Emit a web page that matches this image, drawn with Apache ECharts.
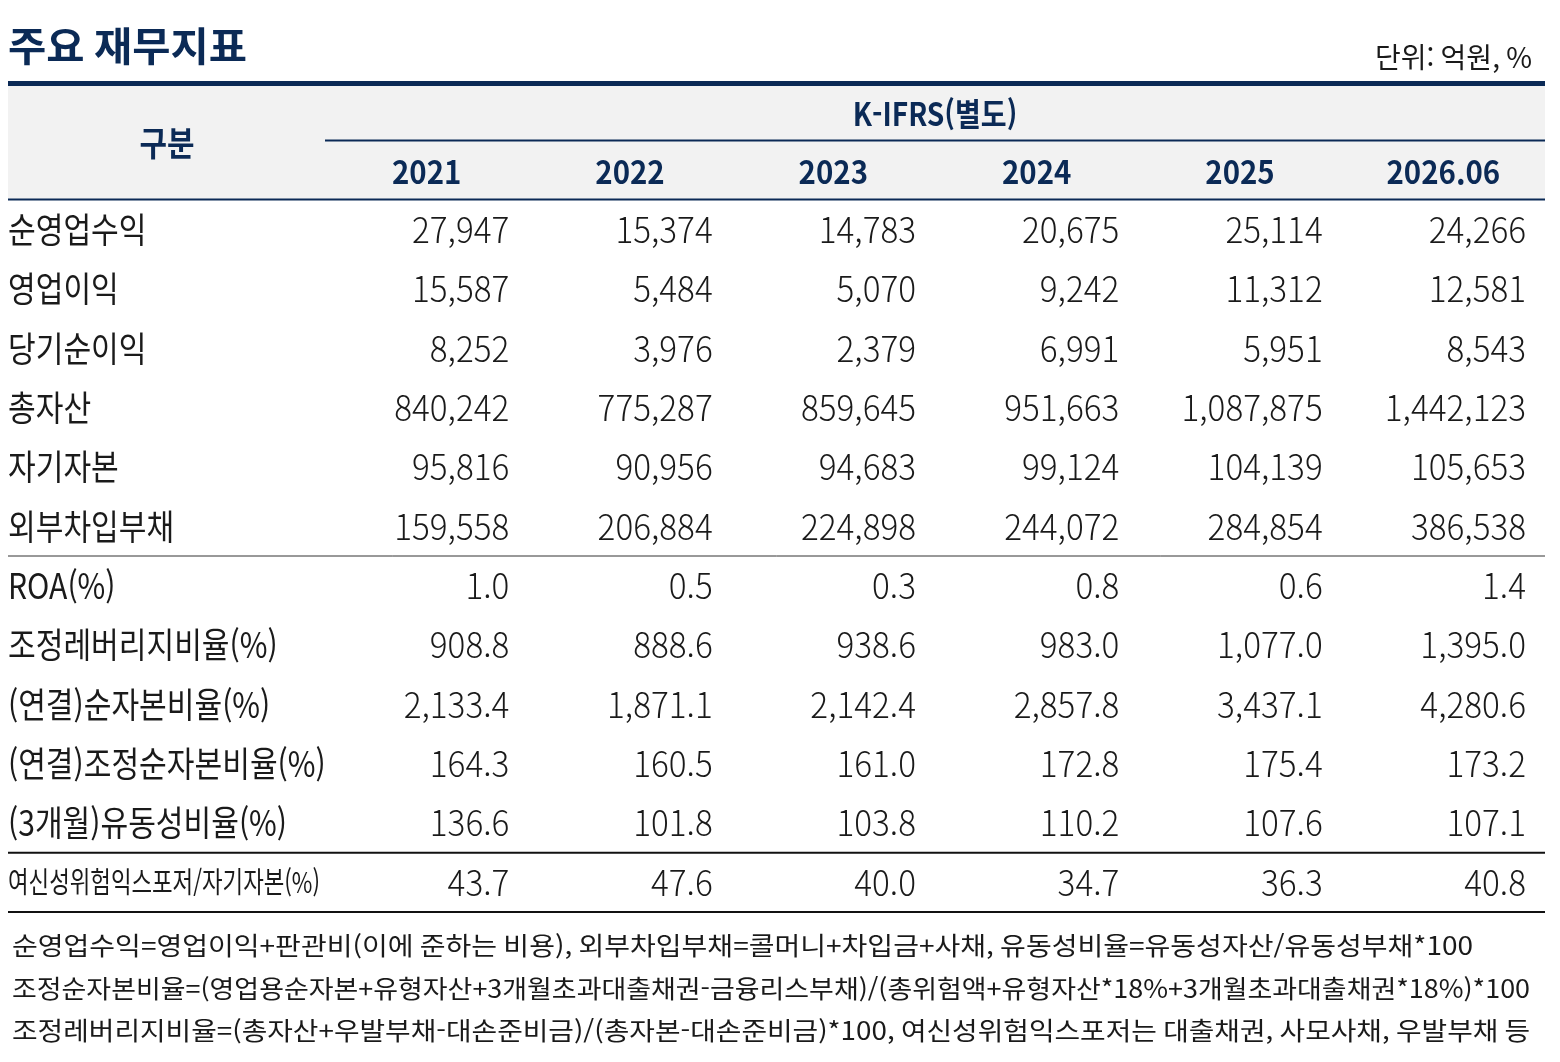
<!doctype html>
<html lang="ko">
<head>
<meta charset="UTF-8">
<title>주요 재무지표</title>
<script src="https://cdn.jsdelivr.net/npm/echarts@6/dist/echarts.min.js"></script>
<style>
  html, body { margin: 0; padding: 0; background: #fff; }
  #main { width: 1560px; height: 1062px; }
</style>
</head>
<body>
<div id="main"></div>
<script>
// 표 데이터
var years = ['2021', '2022', '2023', '2024', '2025', '2026.06'];
var rowNames = ['순영업수익', '영업이익', '당기순이익', '총자산', '자기자본', '외부차입부채',
    'ROA(%)', '조정레버리지비율(%)', '(연결)순자본비율(%)', '(연결)조정순자본비율(%)',
    '(3개월)유동성비율(%)', '여신성위험익스포저/자기자본(%)'];

var netRevenue      = [27947, 15374, 14783, 20675, 25114, 24266];
var opIncome        = [15587, 5484, 5070, 9242, 11312, 12581];
var netIncome       = [8252, 3976, 2379, 6991, 5951, 8543];
var totalAssets     = [840242, 775287, 859645, 951663, 1087875, 1442123];
var equity          = [95816, 90956, 94683, 99124, 104139, 105653];
var extDebt         = [159558, 206884, 224898, 244072, 284854, 386538];
var roa             = [1.0, 0.5, 0.3, 0.8, 0.6, 1.4];
var adjLeverage     = [908.8, 888.6, 938.6, 983.0, 1077.0, 1395.0];
var ncrRatio        = [2133.4, 1871.1, 2142.4, 2857.8, 3437.1, 4280.6];
var adjNcrRatio     = [164.3, 160.5, 161.0, 172.8, 175.4, 173.2];
var liquidity       = [136.6, 101.8, 103.8, 110.2, 107.6, 107.1];
var creditExposure  = [43.7, 47.6, 40.0, 34.7, 36.3, 40.8];

var rowValues = [netRevenue, opIncome, netIncome, totalAssets, equity, extDebt,
    roa, adjLeverage, ncrRatio, adjNcrRatio, liquidity, creditExposure];
var rowDecimals = [0, 0, 0, 0, 0, 0, 1, 1, 1, 1, 1, 1];

var notes = [
    '순영업수익=영업이익+판관비(이에 준하는 비용), 외부차입부채=콜머니+차입금+사채, 유동성비율=유동성자산/유동성부채*100',
    '조정순자본비율=(영업용순자본+유형자산+3개월초과대출채권-금융리스부채)/(총위험액+유형자산*18%+3개월초과대출채권*18%)*100',
    '조정레버리지비율=(총자산+우발부채-대손준비금)/(총자본-대손준비금)*100, 여신성위험익스포저는 대출채권, 사모사채, 우발부채 등'
];

var NAVY = '#0b2a56';
var INK = '#1a1a1a';
var FONT = '"Noto Sans CJK KR", "Noto Sans", sans-serif';

var mctx = document.createElement('canvas').getContext('2d');
function textW(str, size, weight) {
    mctx.font = (weight || 'normal') + ' ' + size + 'px ' + FONT;
    return mctx.measureText(str).width;
}

function fmt(v, d) {
    return v.toLocaleString('en-US', { minimumFractionDigits: d, maximumFractionDigits: d });
}

var cells = [];
var labelRows = [];
for (var r = 0; r < rowNames.length; r++) {
    labelRows.push([0, r, rowNames[r]]);
    for (var c = 0; c < years.length; c++) {
        cells.push([c, r, fmt(rowValues[r][c], rowDecimals[r])]);
    }
}

var LABEL_X = 8;
var TABLE_R = 1545;
var lastLabelW = 312;
var lastLabelSize = 29;
var lastLabelScale = lastLabelW / textW(rowNames[11], lastLabelSize);

// 행 경계선: 5행 아래 얇은 선, 10행/11행 아래 굵은 선
var ruleAfter = { 5: [1, '#333'], 10: [2, '#111'], 11: [2, '#111'] };

var chart = echarts.init(document.getElementById('main'));

var noteGraphics = notes.map(function (t, i) {
    var target = [1461, 1518, 1518][i];
    var s = target / textW(t, 25);
    return {
        type: 'text', x: 12, y: [945, 988, 1030][i], scaleX: s,
        style: { text: t, fill: INK, fontSize: 25, fontFamily: FONT, align: 'left', verticalAlign: 'middle' }
    };
});

var titleScale = 239 / textW('주요 재무지표', 40, 'bold');

var option = {
    animation: false,
    grid: { left: 325, right: 15, top: 200, bottom: 150 },
    xAxis: {
        type: 'category',
        data: years,
        position: 'top',
        axisLine: { show: false },
        axisTick: { show: false },
        splitLine: { show: false },
        axisLabel: { show: false }
    },
    yAxis: {
        type: 'category',
        data: rowNames,
        inverse: true,
        axisLine: { show: false },
        axisTick: { show: false },
        axisLabel: { show: false },
        splitLine: { show: false }
    },
    graphic: [
        { type: 'rect', shape: { x: LABEL_X, y: 86, width: TABLE_R - LABEL_X, height: 113 }, style: { fill: '#f2f2f2' }, z: -1 },
        { type: 'rect', shape: { x: LABEL_X, y: 81, width: TABLE_R - LABEL_X, height: 5 }, style: { fill: NAVY } },
        { type: 'rect', shape: { x: 325, y: 139.5, width: TABLE_R - 325, height: 2 }, style: { fill: NAVY } },
        { type: 'rect', shape: { x: LABEL_X, y: 198.5, width: TABLE_R - LABEL_X, height: 2 }, style: { fill: NAVY } },
        {
            type: 'text', x: 8, y: 46, scaleX: titleScale,
            style: { text: '주요 재무지표', fill: NAVY, fontSize: 40, fontWeight: 'bold', fontFamily: FONT, align: 'left', verticalAlign: 'middle' }
        },
        {
            type: 'text', x: 1532, y: 57,
            style: { text: '단위: 억원, %', fill: INK, fontSize: 28, fontFamily: FONT, align: 'right', verticalAlign: 'middle' }
        },
        {
            type: 'text', x: 167, y: 143, scaleX: 0.88,
            style: { text: '구분', fill: NAVY, fontSize: 34, fontWeight: 'bold', fontFamily: FONT, align: 'center', verticalAlign: 'middle' }
        },
        {
            type: 'text', x: 935, y: 114, scaleX: 163 / textW('K-IFRS(별도)', 32, 'bold'),
            style: { text: 'K-IFRS(별도)', fill: NAVY, fontSize: 32, fontWeight: 'bold', fontFamily: FONT, align: 'center', verticalAlign: 'middle' }
        }
    ].concat(noteGraphics),
    series: [
        {
            // 연도 헤더: x축 카테고리 위치에 배치
            type: 'custom',
            name: 'years',
            data: years.map(function (y, i) { return [i, 0]; }),
            renderItem: function (params, api) {
                var pt = api.coord([api.value(0), 0]);
                var band = api.size([1, 1]);
                return {
                    type: 'text', x: pt[0], y: pt[1] - band[1] / 2 - 28, scaleX: 0.92,
                    style: {
                        text: years[params.dataIndex], fill: NAVY, fontFamily: FONT, fontWeight: 'bold',
                        fontSize: 32, align: 'center', verticalAlign: 'middle'
                    }
                };
            }
        },
        {
            type: 'custom',
            name: 'labels',
            data: labelRows,
            renderItem: function (params, api) {
                var row = api.value(1);
                var pt = api.coord([0, row]);
                var band = api.size([1, 1]);
                var cs = params.coordSys;
                var left = cs.x - 317;
                var last = row === rowNames.length - 1;
                var children = [{
                    type: 'text', x: left, y: pt[1], scaleX: last ? lastLabelScale : 0.86,
                    style: {
                        text: rowNames[row], fill: INK, fontFamily: FONT,
                        fontSize: last ? lastLabelSize : 35, align: 'left', verticalAlign: 'middle'
                    }
                }];
                var rule = ruleAfter[row];
                if (rule) {
                    var yb = pt[1] + band[1] / 2;
                    children.push({
                        type: 'line',
                        shape: { x1: left, y1: yb, x2: cs.x + cs.width, y2: yb },
                        style: { stroke: rule[1], lineWidth: rule[0] }
                    });
                }
                return { type: 'group', children: children };
            }
        },
        {
            type: 'custom',
            name: 'cells',
            data: cells,
            renderItem: function (params, api) {
                var pt = api.coord([api.value(0), api.value(1)]);
                var band = api.size([1, 1]);
                return {
                    type: 'text',
                    x: pt[0] + band[0] / 2 - 19,
                    y: pt[1],
                    scaleX: 0.95,
                    style: {
                        text: cells[params.dataIndex][2], fill: INK, fontFamily: FONT,
                        fontSize: 35, fontWeight: 300, align: 'right', verticalAlign: 'middle'
                    }
                };
            }
        }
    ]
};

chart.setOption(option);
</script>
</body>
</html>
